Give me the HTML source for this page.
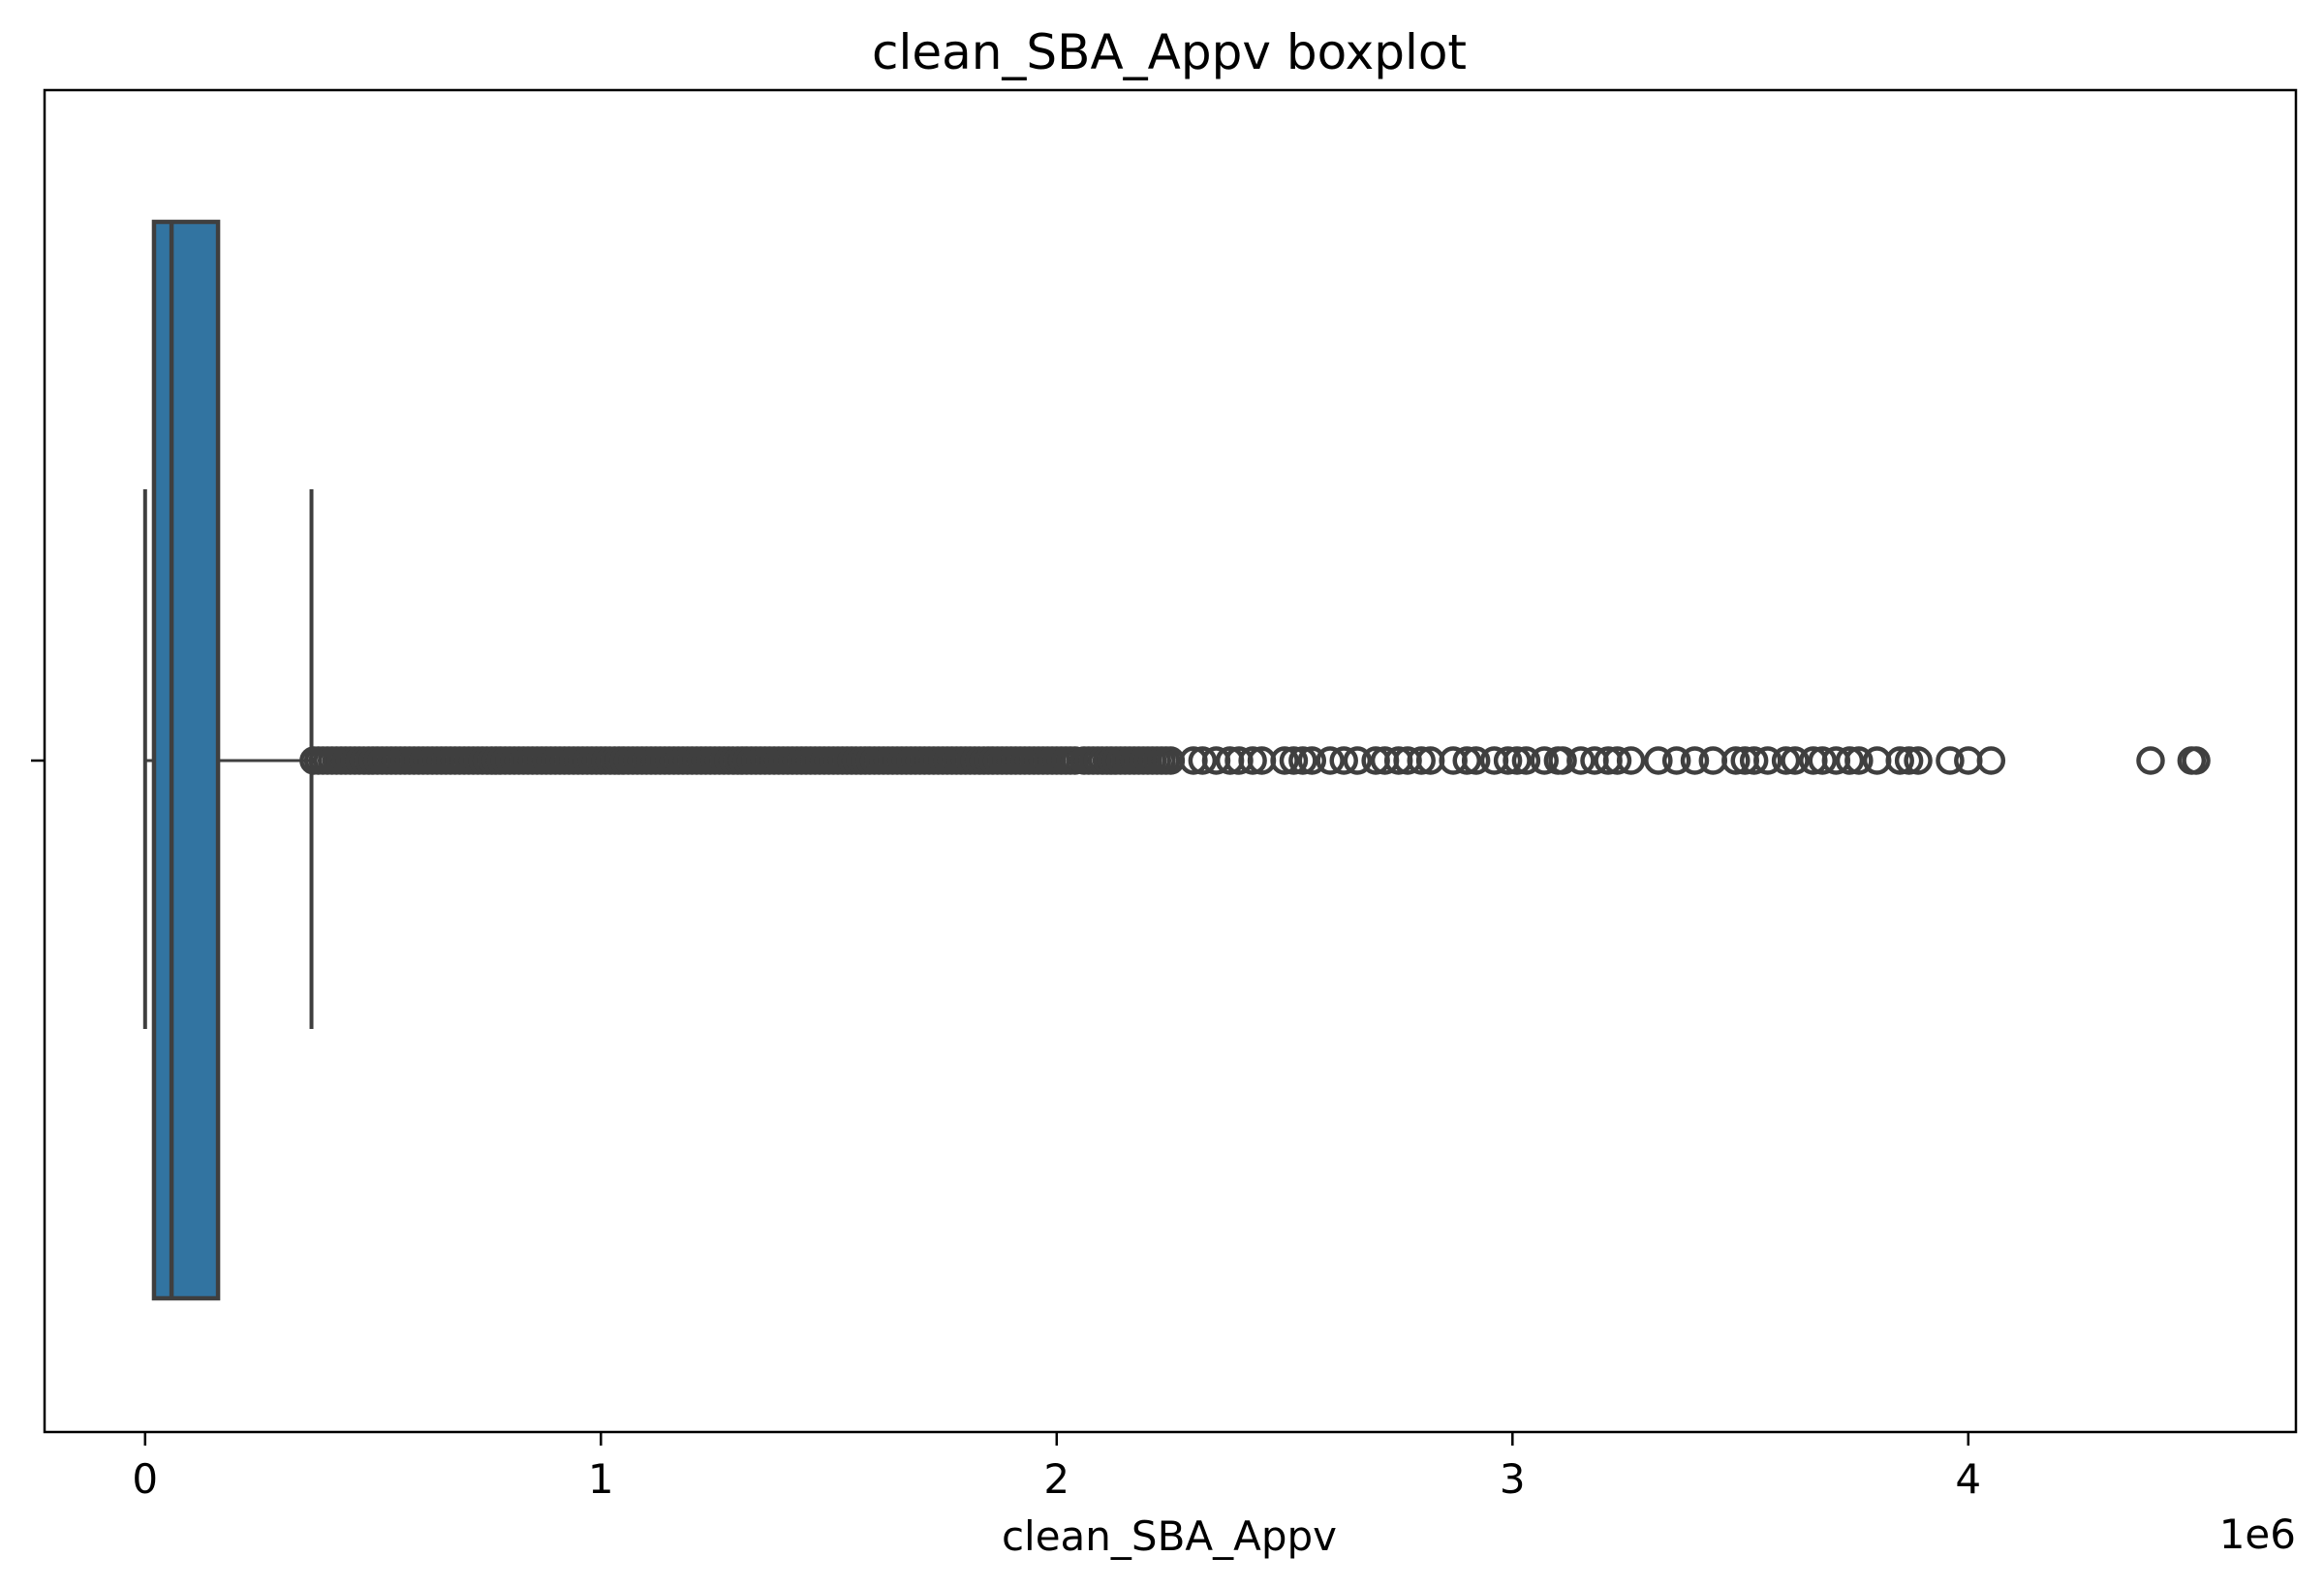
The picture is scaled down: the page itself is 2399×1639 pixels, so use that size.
<!DOCTYPE html>
<html><head><meta charset="utf-8"><style>
html,body{margin:0;padding:0;background:#fff;}
svg{display:block;font-family:"DejaVu Sans","Liberation Sans",sans-serif;}
</style></head><body>
<svg id="chart" width="2399" height="1639" viewBox="0 0 2399 1639" xmlns="http://www.w3.org/2000/svg">
<rect width="2399" height="1639" fill="#fff"/>
<text x="1207" y="71" font-size="50" text-anchor="middle" fill="#000">clean_SBA_Appv boxplot</text>
<g id="plot"></g>
<rect x="46" y="93" width="2324" height="1385" fill="none" stroke="#000" stroke-width="2.5"/>
<line x1="32" y1="785" x2="46" y2="785" stroke="#000" stroke-width="2.5"/>
<g id="xticks"></g>
<text x="1207" y="1600" font-size="42" text-anchor="middle" fill="#000">clean_SBA_Appv</text>
<text x="2370" y="1598" font-size="42" text-anchor="end" fill="#000">1e6</text>
</svg>
<script>
const tickValues = [0, 1, 2, 3, 4];
const tickLabels = ["0", "1", "2", "3", "4"];
const boxStats = [0, 19500, 58000, 160000, 365000]; // whisker low, q1, median, q3, whisker high
const denseOutliers = [0.37,0.38,0.39,0.40,0.41,0.42,0.43,0.44,0.45,0.46,0.47,0.48,0.49,0.50,0.51,0.52,0.53,0.54,0.55,0.56,0.57,0.58,0.59,0.60,0.61,0.62,0.63,0.64,0.65,0.66,0.67,0.68,0.69,0.70,0.71,0.72,0.73,0.74,0.75,0.76,0.77,0.78,0.79,0.80,0.81,0.82,0.83,0.84,0.85,0.86,0.87,0.88,0.89,0.90,0.91,0.92,0.93,0.94,0.95,0.96,0.97,0.98,0.99,1.00,1.01,1.02,1.03,1.04,1.05,1.06,1.07,1.08,1.09,1.10,1.11,1.12,1.13,1.14,1.15,1.16,1.17,1.18,1.19,1.20,1.21,1.22,1.23,1.24,1.25,1.26,1.27,1.28,1.29,1.30,1.31,1.32,1.33,1.34,1.35,1.36,1.37,1.38,1.39,1.40,1.41,1.42,1.43,1.44,1.45,1.46,1.47,1.48,1.49,1.50,1.51,1.52,1.53,1.54,1.55,1.56,1.57,1.58,1.59,1.60,1.61,1.62,1.63,1.64,1.65,1.66,1.67,1.68,1.69,1.70,1.71,1.72,1.73,1.74,1.75,1.76,1.77,1.78,1.79,1.80,1.81,1.82,1.83,1.84,1.85,1.86,1.87,1.88,1.89,1.90,1.91,1.92,1.93,1.94,1.95,1.96,1.97,1.98,1.99,2.00,2.01,2.02,2.03,2.04,2.06,2.07,2.08,2.09,2.10,2.11,2.12,2.13,2.14,2.15,2.16,2.17,2.18,2.19,2.20,2.21,2.22,2.23,2.24,2.25];
const sparseOutliers = [2.30,2.32,2.35,2.38,2.40,2.43,2.45,2.50,2.52,2.54,2.56,2.60,2.63,2.66,2.70,2.72,2.75,2.77,2.80,2.82,2.87,2.90,2.92,2.96,2.99,3.01,3.03,3.07,3.10,3.11,3.15,3.18,3.21,3.23,3.26,3.32,3.36,3.40,3.44,3.49,3.51,3.53,3.56,3.60,3.62,3.66,3.68,3.71,3.74,3.76,3.80,3.85,3.87,3.89,3.96,4.00,4.05,4.40,4.49,4.50];

const NS = "http://www.w3.org/2000/svg";
const X0 = 149.8, PER = 470.5, CY = 785;
function xs(v){ return X0 + v * PER; }
function xr(v){ return X0 + v / 1e6 * PER; }
function mk(tag, attrs, parent){ const e=document.createElementNS(NS,tag); for(const k in attrs) e.setAttribute(k,attrs[k]); parent.appendChild(e); return e; }

const plot = document.getElementById('plot');
const col = "#3f3f3f";
let e;
e = mk('line',{x1:xr(boxStats[0]),y1:CY,x2:xr(boxStats[1]),y2:CY,stroke:col,'stroke-width':3},plot);


e = mk('line',{x1:xr(boxStats[3]),y1:CY,x2:xr(boxStats[4]),y2:CY,stroke:col,'stroke-width':3},plot);


e = mk('line',{x1:xr(boxStats[0]),y1:505,x2:xr(boxStats[0]),y2:1062,stroke:col,'stroke-width':4},plot);


e = mk('line',{x1:xr(boxStats[4]),y1:505,x2:xr(boxStats[4]),y2:1062,stroke:col,'stroke-width':4},plot);


e = mk('rect',{x:xr(boxStats[1]),y:229,width:xr(boxStats[3])-xr(boxStats[1]),height:1111,fill:"#3274a1",stroke:col,'stroke-width':4.5},plot);


e = mk('line',{x1:xr(boxStats[2]),y1:229,x2:xr(boxStats[2]),y2:1340,stroke:col,'stroke-width':4.5},plot);


const allOut = denseOutliers.concat(sparseOutliers);
for (const v of allOut){
  const c = mk('circle',{cx:xs(v),cy:CY,r:12.5,fill:"none",stroke:col,'stroke-width':4.5},plot);
  
  
}
const xt = document.getElementById('xticks');
tickValues.forEach((v,i)=>{
  const l = mk('line',{x1:xs(v),y1:1478,x2:xs(v),y2:1492,stroke:"#000",'stroke-width':2.5},xt);
  
  
  const t = mk('text',{x:xs(v),y:1541,'font-size':42,'text-anchor':'middle',fill:'#000'},xt);
  t.textContent = tickLabels[i];
  
  
});
</script>
</body></html>
